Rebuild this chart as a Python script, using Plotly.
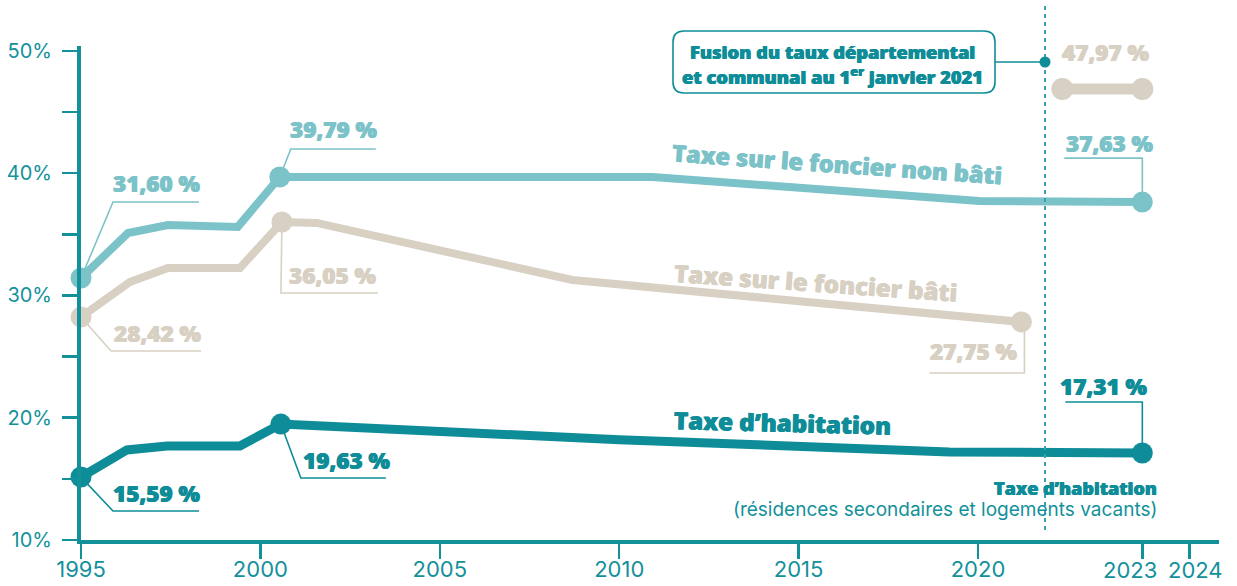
import plotly.graph_objects as go

# ---------------- data ----------------
# x positions on the drawn year scale (the scale is compressed after 2020:
# the tick labelled "2023" sits at position 2024.58, "2024" at 2025.89)
x_hab = [1995.0, 1996.28, 1997.40, 1999.43, 2000.57, 2010.0, 2019.2, 2024.58]
y_hab = [15.15, 17.36, 17.69, 17.69, 19.48, 18.2, 17.2, 17.11]
x_nb = [1995.0, 1996.31, 1997.42, 1999.37, 2000.54, 2010.93, 2020.04, 2024.58]
y_nb = [31.42, 35.10, 35.76, 35.60, 39.68, 39.68, 37.72, 37.63]
x_b = [1995.0, 1996.36, 1997.42, 1999.43, 2000.60, 2001.57, 2008.70, 2021.21]
y_b = [28.23, 31.10, 32.24, 32.24, 36.00, 35.93, 31.26, 27.83]
x_b2 = [2022.35, 2024.58]
y_b2 = [46.88, 46.88]

dots_hab = [0, 4, 7]
dots_nb = [0, 4, 7]
dots_b = [0, 4, 7]

labels_hab = ["15,59 %", "19,63 %", "17,31 %"]
labels_nb = ["31,60 %", "39,79 %", "37,63 %"]
labels_b = ["28,42 %", "36,05 %", "27,75 %"]
label_b2 = "47,97 %"

series_names = ["Taxe d’habitation", "Taxe sur le foncier non bâti", "Taxe sur le foncier bâti"]

x_tickvals = [1995, 2000, 2005, 2010, 2015, 2020, 2024.58, 2025.89]
x_ticktext = ["1995", "2000", "2005", "2010", "2015", "2020", "2023", "2024"]
y_tickvals = [10, 15, 20, 25, 30, 35, 40, 45, 50]
y_ticktext = ["10%", "", "20%", "", "30%", "", "40%", "", "50%"]

# ---------------- styles ----------------
C_HAB = "#0E8D98"
C_NB = "#7CC3C9"
C_B = "#D7D0C3"
C_AX = "#13919B"
BOLD = "Open Sans"
REG = "Inter"

W, H = 1237, 586
L, R, T, B = 81, 18, 46, 46
PXY = 35.88   # px per year
PXP = 12.23   # px per percent


def xd(px):
    return 1995 + (px - L) / PXY


def yd(py):
    return 10 + (H - B - py) / PXP


def xp(px):  # pixel -> paper x
    return (px - L) / (W - L - R)


def yp(py):  # pixel -> paper y
    return (H - B - py) / (H - T - B)


def dpx(dx):
    return dx / PXY


def dpy(dy):
    return -dy / PXP


def bfont(size, color):
    return dict(family=BOLD, size=size, color=color, weight=800,
                shadow="0.45px 0px 0px %s, -0.45px 0px 0px %s" % (color, color))


fig = go.Figure()


def add_series(xs, ys, color, width, dots):
    fig.add_trace(go.Scatter(x=xs, y=ys, mode="lines",
                             line=dict(color=color, width=width),
                             cliponaxis=False, hoverinfo="skip"))
    fig.add_trace(go.Scatter(x=[xs[i] for i in dots], y=[ys[i] for i in dots],
                             mode="markers", marker=dict(color=color, size=21),
                             cliponaxis=False, hoverinfo="skip"))


add_series(x_b, y_b, C_B, 8, dots_b)
add_series(x_nb, y_nb, C_NB, 8, dots_nb)
add_series(x_hab, y_hab, C_HAB, 9, dots_hab)
fig.add_trace(go.Scatter(x=x_b2, y=y_b2, mode="lines+markers",
                         line=dict(color=C_B, width=11),
                         marker=dict(color=C_B, size=22),
                         cliponaxis=False, hoverinfo="skip"))

shapes = []
annotations = []


def leader(x, y, pts, color):
    # pts: pixel offsets relative to the data point
    path = "M %f,%f" % (x, y)
    for (ox, oy) in pts:
        path += " L %f,%f" % (x + dpx(ox), y + dpy(oy))
    shapes.append(dict(type="path", path=path, xref="x", yref="y",
                       line=dict(color=color, width=1.6), layer="below"))


def vlabel(x, y, ox, oy, text, color, size=22.5):
    annotations.append(dict(x=x + dpx(ox), y=y + dpy(oy), xref="x", yref="y",
                            text=text, showarrow=False, xanchor="center", yanchor="middle",
                            font=bfont(size, color)))


# non bâti labels
leader(x_nb[0], y_nb[0], [(32, -76), (118, -76)], C_NB)
vlabel(x_nb[0], y_nb[0], 75, -95, labels_nb[0], C_NB)
leader(x_nb[4], y_nb[4], [(11, -28), (96, -28)], C_NB)
vlabel(x_nb[4], y_nb[4], 54, -48, labels_nb[1], C_NB)
leader(x_nb[7], y_nb[7], [(0, -44), (-78, -44)], C_NB)
vlabel(x_nb[7], y_nb[7], -33, -59, labels_nb[2], C_NB)

# bâti labels
leader(x_b[0], y_b[0], [(30, 34), (120, 34)], C_B)
vlabel(x_b[0], y_b[0], 76, 16, labels_b[0], C_B)
leader(x_b[4], y_b[4], [(-1, 71), (96, 71)], C_B)
vlabel(x_b[4], y_b[4], 51, 53, labels_b[1], C_B)
leader(x_b[7], y_b[7], [(3, 0), (3, 51), (-92, 51)], C_B)
vlabel(x_b[7], y_b[7], -48, 30, labels_b[2], C_B)

# habitation labels
leader(x_hab[0], y_hab[0], [(32, 34), (118, 34)], C_HAB)
vlabel(x_hab[0], y_hab[0], 75, 16, labels_hab[0], C_HAB)
leader(x_hab[4], y_hab[4], [(20, 54), (105, 54)], C_HAB)
vlabel(x_hab[4], y_hab[4], 66, 36, labels_hab[1], C_HAB)
leader(x_hab[7], y_hab[7], [(0, -51), (-77, -51)], C_HAB)
vlabel(x_hab[7], y_hab[7], -39, -67, labels_hab[2], C_HAB)

# 47,97 %
vlabel((x_b2[0] + x_b2[1]) / 2, y_b2[0], 3, -36, label_b2, C_B)

# series names
annotations.append(dict(x=xd(837), y=yd(164), text=series_names[1], showarrow=False,
                        textangle=4, font=bfont(23.5, C_NB)))
annotations.append(dict(x=xd(816), y=yd(282), text=series_names[2], showarrow=False,
                        textangle=4, font=bfont(24, C_B)))
annotations.append(dict(x=xd(782), y=yd(422), text=series_names[0], showarrow=False,
                        textangle=1.5, font=bfont(24, C_HAB)))

annotations.append(dict(x=xd(1159), y=yd(488), text="Taxe d’habitation", showarrow=False,
                        xanchor="right", font=bfont(18, C_HAB)))
annotations.append(dict(x=xd(1159), y=yd(509), text="(résidences secondaires et logements vacants)",
                        showarrow=False, xanchor="right",
                        font=dict(family=REG, size=19, color=C_AX)))

# fusion marker (paper refs so that the shapes are not clipped to the plot area)
fx = xp(1045)
shapes.append(dict(type="line", x0=fx, x1=fx, y0=yp(6), y1=yp(533),
                   xref="paper", yref="paper",
                   line=dict(color="#3AA2AB", width=2, dash="4px,4px"), layer="above"))
shapes.append(dict(type="line", x0=xp(995), x1=fx, y0=yp(62), y1=yp(62),
                   xref="paper", yref="paper", line=dict(color=C_HAB, width=1.6)))
shapes.append(dict(type="circle", xref="paper", yref="paper", xsizemode="pixel",
                   ysizemode="pixel", xanchor=fx, yanchor=yp(62),
                   x0=-5.5, x1=5.5, y0=-5.5, y1=5.5,
                   fillcolor=C_HAB, line=dict(width=0)))
# rounded box
bw, bh, r = 161, 31, 11
box = ("M %f,%f L %f,%f Q %f,%f %f,%f L %f,%f Q %f,%f %f,%f L %f,%f Q %f,%f %f,%f "
       "L %f,%f Q %f,%f %f,%f Z") % (
    -bw + r, -bh, bw - r, -bh, bw, -bh, bw, -bh + r,
    bw, bh - r, bw, bh, bw - r, bh,
    -bw + r, bh, -bw, bh, -bw, bh - r,
    -bw, -bh + r, -bw, -bh, -bw + r, -bh)
shapes.append(dict(type="path", path=box, xref="paper", yref="paper", xsizemode="pixel",
                   ysizemode="pixel", xanchor=xp(834), yanchor=yp(62),
                   fillcolor="white", line=dict(color=C_HAB, width=1.6)))
annotations.append(dict(x=xd(832), y=yd(51), text="Fusion du taux départemental", showarrow=False,
                        yanchor="middle", font=bfont(18.3, C_HAB)))
annotations.append(dict(x=xd(832), y=yd(75), text="et communal au 1<sup>er</sup> janvier 2021",
                        showarrow=False, yanchor="middle", font=bfont(18.3, C_HAB)))

# the last two x tick labels are nudged apart (as in the original design)
tick_fixed = 6
annotations.append(dict(x=xp(1130), y=yp(570), xref="paper", yref="paper",
                        xanchor="center", yanchor="middle",
                        text=x_ticktext[6], showarrow=False,
                        font=dict(family=REG, size=22, color=C_AX)))
annotations.append(dict(x=xp(1195), y=yp(570), xref="paper", yref="paper",
                        xanchor="center", yanchor="middle",
                        text=x_ticktext[7], showarrow=False,
                        font=dict(family=REG, size=22, color=C_AX)))
shown_ticktext = x_ticktext[:tick_fixed] + ["", ""]

fig.update_layout(
    width=W, height=H,
    margin=dict(l=L, r=R, t=T, b=B, pad=0),
    paper_bgcolor="white", plot_bgcolor="white",
    showlegend=False, hovermode=False,
    shapes=shapes, annotations=annotations,
    xaxis=dict(range=[1995, xd(W - R)], showgrid=False, zeroline=False,
               showline=True, linecolor=C_AX, linewidth=4,
               tickmode="array", tickvals=x_tickvals, ticktext=shown_ticktext,
               tickangle=0, ticklabelstandoff=-8,
               ticks="outside", ticklen=15, tickwidth=2.5, tickcolor=C_AX,
               tickfont=dict(family=REG, size=22, color=C_AX), automargin=False,
               fixedrange=True),
    yaxis=dict(range=[10, yd(T)], showgrid=False, zeroline=False,
               showline=True, linecolor=C_AX, linewidth=4,
               tickmode="array", tickvals=y_tickvals, ticktext=y_ticktext,
               ticks="outside", ticklen=15, tickwidth=2.5, tickcolor=C_AX,
               tickfont=dict(family=REG, size=20, color=C_AX), automargin=False,
               ticklabelstandoff=6, fixedrange=True),
)

fig.write_html("out.html", config={"staticPlot": True},
               post_script="document.body.style.margin='0px';")
